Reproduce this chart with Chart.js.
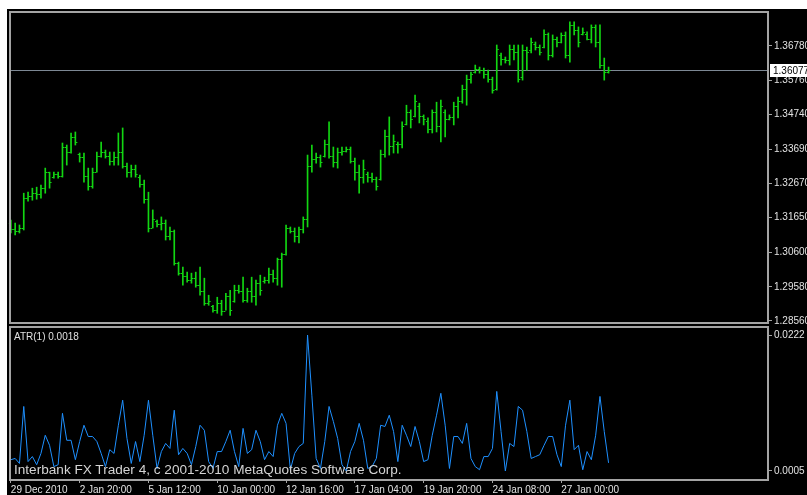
<!DOCTYPE html>
<html>
<head>
<meta charset="utf-8">
<script src="https://cdn.jsdelivr.net/npm/chart.js@4.4.0/dist/chart.umd.min.js"></script>
<style>
  html, body { margin: 0; padding: 0; background: #fff; overflow: hidden; }
  #fundo { position: absolute; left: 7px; top: 9px; width: 800px; height: 486px; background: #000; }
  canvas { position: absolute; left: 0; }
  #precos { top: 0; }
  #atr { top: 325px; }
  .texto { position: absolute; font-family: "Liberation Sans", Arial, sans-serif; white-space: nowrap; }
  #rotuloAtr { left: 14px; top: 331px; font-size: 10px; color: #e0e0e0; }
  #marca { left: 14px; top: 462px; font-size: 13.6px; color: #d4d4d4; }
</style>
</head>
<body>
<div id="fundo"></div>
<canvas id="precos" width="807" height="325"></canvas>
<canvas id="atr" width="807" height="170"></canvas>
<div class="texto" id="rotuloAtr">ATR(1) 0.0018</div>
<div class="texto" id="marca">Interbank FX Trader 4, c 2001-2010 MetaQuotes Software Corp.</div>
<script>
// EURUSD H4, 140 barras
const opens = [
  1.3150, 1.3130, 1.3125, 1.3135, 1.3225, 1.3230, 1.3240, 1.3235, 1.3255, 1.3300,
  1.3285, 1.3295, 1.3290, 1.3375, 1.3360, 1.3405, 1.3355, 1.3345, 1.3290, 1.3260,
  1.3300, 1.3350, 1.3360, 1.3350, 1.3335, 1.3345, 1.3360, 1.3320, 1.3300, 1.3310,
  1.3285, 1.3265, 1.3220, 1.3135, 1.3155, 1.3145, 1.3150, 1.3110, 1.3125, 1.3030,
  1.3000, 1.2990, 1.2980, 1.2985, 1.2965, 1.2945, 1.2910, 1.2900, 1.2890, 1.2910,
  1.2885, 1.2930, 1.2915, 1.2950, 1.2945, 1.2920, 1.2945, 1.2930, 1.2970, 1.2975,
  1.2980, 1.2995, 1.2985, 1.3040, 1.3055, 1.3135, 1.3125, 1.3110, 1.3130, 1.3160,
  1.3320, 1.3340, 1.3345, 1.3350, 1.3385, 1.3350, 1.3330, 1.3360, 1.3365, 1.3370,
  1.3335, 1.3300, 1.3285, 1.3295, 1.3285, 1.3280, 1.3280, 1.3355, 1.3410, 1.3380,
  1.3385, 1.3385, 1.3445, 1.3480, 1.3470, 1.3500, 1.3470, 1.3455, 1.3430, 1.3480,
  1.3440, 1.3480, 1.3460, 1.3465, 1.3500, 1.3515, 1.3550, 1.3580, 1.3600, 1.3610,
  1.3605, 1.3595, 1.3580, 1.3550, 1.3650, 1.3640, 1.3635, 1.3670, 1.3660, 1.3585,
  1.3665, 1.3665, 1.3685, 1.3675, 1.3675, 1.3715, 1.3650, 1.3700, 1.3690, 1.3710,
  1.3650, 1.3740, 1.3725, 1.3715, 1.3715, 1.3700, 1.3735, 1.3690, 1.3620, 1.3600
];
const highs = [
  1.3158, 1.3149, 1.3143, 1.3238, 1.3241, 1.3253, 1.3256, 1.3262, 1.3313, 1.3301,
  1.3301, 1.3301, 1.3388, 1.3382, 1.3418, 1.3421, 1.3358, 1.3358, 1.3313, 1.3313,
  1.3361, 1.3391, 1.3367, 1.3361, 1.3361, 1.3418, 1.3433, 1.3328, 1.3322, 1.3322,
  1.3292, 1.3277, 1.3241, 1.3188, 1.3158, 1.3167, 1.3158, 1.3137, 1.3128, 1.3032,
  1.3017, 1.3002, 1.2999, 1.3002, 1.3017, 1.2984, 1.2933, 1.2903, 1.2927, 1.2918,
  1.2939, 1.2948, 1.2963, 1.2963, 1.2987, 1.2954, 1.2987, 1.2978, 1.2993, 1.2987,
  1.3014, 1.3008, 1.3044, 1.3059, 1.3143, 1.3137, 1.3134, 1.3137, 1.3167, 1.3352,
  1.3382, 1.3358, 1.3352, 1.3397, 1.3451, 1.3376, 1.3373, 1.3376, 1.3376, 1.3376,
  1.3343, 1.3322, 1.3337, 1.3301, 1.3298, 1.3286, 1.3367, 1.3427, 1.3466, 1.3412,
  1.3391, 1.3451, 1.3501, 1.3487, 1.3531, 1.3507, 1.3472, 1.3463, 1.3487, 1.3510,
  1.3516, 1.3487, 1.3472, 1.3510, 1.3525, 1.3561, 1.3591, 1.3600, 1.3621, 1.3615,
  1.3612, 1.3606, 1.3585, 1.3681, 1.3657, 1.3645, 1.3681, 1.3681, 1.3681, 1.3681,
  1.3675, 1.3702, 1.3690, 1.3681, 1.3726, 1.3717, 1.3711, 1.3705, 1.3717, 1.3720,
  1.3750, 1.3750, 1.3735, 1.3732, 1.3720, 1.3741, 1.3741, 1.3741, 1.3642, 1.3615
];
const lows = [
  1.3119, 1.3113, 1.3119, 1.3128, 1.3214, 1.3217, 1.3220, 1.3223, 1.3238, 1.3253,
  1.3283, 1.3283, 1.3286, 1.3322, 1.3358, 1.3382, 1.3331, 1.3271, 1.3247, 1.3253,
  1.3301, 1.3346, 1.3343, 1.3322, 1.3322, 1.3322, 1.3313, 1.3286, 1.3286, 1.3286,
  1.3256, 1.3208, 1.3122, 1.3134, 1.3137, 1.3128, 1.3098, 1.3098, 1.3023, 1.2993,
  1.2963, 1.2972, 1.2969, 1.2957, 1.2933, 1.2903, 1.2903, 1.2882, 1.2879, 1.2873,
  1.2888, 1.2873, 1.2912, 1.2939, 1.2912, 1.2912, 1.2912, 1.2903, 1.2933, 1.2969,
  1.2969, 1.2972, 1.2963, 1.2957, 1.3053, 1.3119, 1.3092, 1.3089, 1.3119, 1.3137,
  1.3301, 1.3328, 1.3316, 1.3346, 1.3343, 1.3316, 1.3313, 1.3352, 1.3361, 1.3328,
  1.3277, 1.3238, 1.3268, 1.3271, 1.3271, 1.3247, 1.3277, 1.3346, 1.3352, 1.3358,
  1.3358, 1.3373, 1.3442, 1.3433, 1.3466, 1.3448, 1.3442, 1.3418, 1.3418, 1.3421,
  1.3391, 1.3406, 1.3457, 1.3442, 1.3463, 1.3507, 1.3501, 1.3567, 1.3597, 1.3597,
  1.3582, 1.3570, 1.3537, 1.3546, 1.3621, 1.3627, 1.3621, 1.3636, 1.3570, 1.3576,
  1.3606, 1.3657, 1.3666, 1.3651, 1.3672, 1.3636, 1.3645, 1.3675, 1.3687, 1.3642,
  1.3630, 1.3711, 1.3675, 1.3711, 1.3696, 1.3687, 1.3675, 1.3612, 1.3576, 1.3597
];
const closes = [
  1.3130, 1.3125, 1.3135, 1.3225, 1.3230, 1.3240, 1.3235, 1.3255, 1.3300, 1.3270,
  1.3295, 1.3290, 1.3375, 1.3360, 1.3405, 1.3390, 1.3345, 1.3290, 1.3260, 1.3300,
  1.3350, 1.3360, 1.3350, 1.3335, 1.3345, 1.3360, 1.3320, 1.3300, 1.3310, 1.3295,
  1.3265, 1.3220, 1.3135, 1.3160, 1.3145, 1.3150, 1.3110, 1.3125, 1.3030, 1.3000,
  1.2990, 1.2980, 1.2985, 1.2965, 1.2945, 1.2910, 1.2915, 1.2890, 1.2910, 1.2885,
  1.2930, 1.2890, 1.2950, 1.2945, 1.2920, 1.2945, 1.2930, 1.2970, 1.2950, 1.2980,
  1.2995, 1.2985, 1.3040, 1.3055, 1.3135, 1.3125, 1.3110, 1.3130, 1.3160, 1.3320,
  1.3340, 1.3345, 1.3330, 1.3385, 1.3350, 1.3330, 1.3360, 1.3365, 1.3370, 1.3335,
  1.3300, 1.3285, 1.3310, 1.3285, 1.3280, 1.3260, 1.3355, 1.3410, 1.3380, 1.3395,
  1.3385, 1.3440, 1.3480, 1.3460, 1.3515, 1.3470, 1.3460, 1.3430, 1.3480, 1.3440,
  1.3500, 1.3460, 1.3465, 1.3500, 1.3515, 1.3550, 1.3580, 1.3595, 1.3610, 1.3605,
  1.3595, 1.3580, 1.3545, 1.3670, 1.3640, 1.3635, 1.3670, 1.3660, 1.3580, 1.3665,
  1.3660, 1.3690, 1.3675, 1.3660, 1.3715, 1.3650, 1.3700, 1.3690, 1.3710, 1.3650,
  1.3740, 1.3725, 1.3690, 1.3720, 1.3700, 1.3735, 1.3690, 1.3620, 1.3600, 1.36077
];
const atrValues = [
  0.0023, 0.0025, 0.0017, 0.0108, 0.0020, 0.0028, 0.0015, 0.0033, 0.0062, 0.0046,
  0.0012, 0.0015, 0.0097, 0.0054, 0.0054, 0.0023, 0.0052, 0.0078, 0.0060, 0.0060,
  0.0052, 0.0033, 0.0012, 0.0039, 0.0033, 0.0078, 0.0118, 0.0057, 0.0017, 0.0052,
  0.0020, 0.0062, 0.0118, 0.0062, 0.0009, 0.0036, 0.0049, 0.0041, 0.0102, 0.0031,
  0.0041, 0.0033, 0.0015, 0.0044, 0.0078, 0.0070, 0.0020, 0.0009, 0.0036, 0.0036,
  0.0052, 0.0070, 0.0036, 0.0012, 0.0073, 0.0033, 0.0039, 0.0070, 0.0052, 0.0023,
  0.0036, 0.0028, 0.0078, 0.0097, 0.0081, 0.0007, 0.0033, 0.0044, 0.0049, 0.0222,
  0.0126, 0.0025, 0.0009, 0.0052, 0.0108, 0.0084, 0.0057, 0.0015, 0.0005, 0.0036,
  0.0052, 0.0081, 0.0054, 0.0009, 0.0012, 0.0025, 0.0078, 0.0076, 0.0094, 0.0068,
  0.0020, 0.0078, 0.0062, 0.0044, 0.0076, 0.0052, 0.0020, 0.0023, 0.0062, 0.0094,
  0.0129, 0.0078, 0.0009, 0.0060, 0.0060, 0.0049, 0.0081, 0.0025, 0.0012, 0.0007,
  0.0028, 0.0028, 0.0041, 0.0132, 0.0068, 0.0005, 0.0049, 0.0044, 0.0108, 0.0102,
  0.0068, 0.0025, 0.0028, 0.0031, 0.0046, 0.0060, 0.0060, 0.0031, 0.0012, 0.0078,
  0.0118, 0.0039, 0.0046, 0.0007, 0.0036, 0.0023, 0.0062, 0.0124, 0.0068, 0.0018
];
const currentPrice = 1.36077;
const priceTicks = [1.3678, 1.3576, 1.3474, 1.3369, 1.3267, 1.3165, 1.3060, 1.2958, 1.2856];
const atrTicks = [0.0222, 0.0005];
const timeTickBars = [0, 16, 32, 48, 64, 80, 96, 112, 128];
const timeLabels = ['29 Dec 2010', '2 Jan 20:00', '5 Jan 12:00', '10 Jan 00:00', '12 Jan 16:00',
  '17 Jan 04:00', '19 Jan 20:00', '24 Jan 08:00', '27 Jan 00:00'];

const corBarra = '#12d612';
const corAtr = '#1e90ff';
const corMoldura = '#a4a4a4';
const corTexto = '#e2e2e2';
const fonte = { family: '"Liberation Sans", Arial, sans-serif', size: 10 };
const xMin = -0.2;
const xMax = 176.08;

function main() {
  gerarGraficoPrecos();
  gerarGraficoAtr();
}

// sem folga extra para os rótulos das pontas: a área do gráfico fica onde o padding manda
function semFolga(s) {
  s.paddingTop = 0;
  s.paddingBottom = 0;
  s.paddingLeft = 0;
  s.paddingRight = 0;
}

const moldura = {
  id: 'moldura',
  afterDraw(chart) {
    const { ctx, chartArea: a } = chart;
    ctx.save();
    ctx.strokeStyle = corMoldura;
    ctx.lineWidth = 2;
    ctx.strokeRect(a.left, a.top, a.right - a.left, a.bottom - a.top);
    ctx.restore();
  }
};

// tracinhos de abertura (esquerda) e fechamento (direita)
const ticksOhlc = {
  id: 'ticksOhlc',
  afterDatasetsDraw(chart) {
    const { ctx, scales: { y } } = chart;
    const meta = chart.getDatasetMeta(0);
    ctx.save();
    ctx.fillStyle = corBarra;
    meta.data.forEach((barra, i) => {
      const yo = Math.round(y.getPixelForValue(opens[i]));
      const yc = Math.round(y.getPixelForValue(closes[i]));
      ctx.fillRect(barra.x - 2, yo, 1.5, 1);
      ctx.fillRect(barra.x + 0.5, yc, 1.5, 1);
    });
    ctx.restore();
  }
};

const linhaPreco = {
  id: 'linhaPreco',
  beforeDatasetsDraw(chart) {
    const { ctx, chartArea: a, scales: { y } } = chart;
    const py = Math.round(y.getPixelForValue(currentPrice)) + 0.5;
    ctx.save();
    ctx.strokeStyle = '#7d8894';
    ctx.lineWidth = 1;
    ctx.beginPath();
    ctx.moveTo(a.left, py);
    ctx.lineTo(a.right, py);
    ctx.stroke();
    ctx.restore();
  },
  afterDraw(chart) {
    const { ctx, chartArea: a, scales: { y } } = chart;
    const py = Math.round(y.getPixelForValue(currentPrice));
    ctx.save();
    ctx.fillStyle = '#ffffff';
    ctx.fillRect(a.right + 2, py - 6, chart.width - a.right - 2, 13);
    ctx.fillStyle = '#000000';
    ctx.font = '10px "Liberation Sans", Arial, sans-serif';
    ctx.textBaseline = 'middle';
    ctx.fillText(currentPrice.toFixed(5), a.right + 5, py + 1);
    ctx.restore();
  }
};

function gerarGraficoPrecos() {
  const ctx = document.getElementById('precos').getContext('2d');
  new Chart(ctx, {
    type: 'bar',
    data: {
      datasets: [{
        data: highs.map((h, i) => ({ x: i, y: [lows[i], h] })),
        backgroundColor: corBarra,
        barThickness: 1,
        borderWidth: 0
      }]
    },
    options: {
      responsive: false,
      animation: false,
      layout: { padding: { left: 10, top: 12, bottom: 2, right: 0 } },
      plugins: { legend: { display: false }, tooltip: { enabled: false } },
      scales: {
        x: { type: 'linear', min: xMin, max: xMax, display: false, offset: false },
        y: {
          position: 'right',
          min: 1.2850,
          max: 1.37796,
          afterFit(s) { s.width = 39; semFolga(s); },
          afterBuildTicks(s) { s.ticks = priceTicks.map(v => ({ value: v })); },
          border: { display: false },
          grid: { drawOnChartArea: false, tickLength: 4, color: corMoldura },
          ticks: { color: corTexto, font: fonte, padding: 2, callback: v => v.toFixed(5) }
        }
      }
    },
    plugins: [linhaPreco, ticksOhlc, moldura]
  });
}

function gerarGraficoAtr() {
  const ctx = document.getElementById('atr').getContext('2d');
  new Chart(ctx, {
    type: 'line',
    data: {
      datasets: [{
        data: atrValues.map((v, i) => ({ x: i, y: v })),
        borderColor: corAtr,
        borderWidth: 1,
        pointRadius: 0,
        tension: 0,
        fill: false
      }]
    },
    options: {
      responsive: false,
      animation: false,
      layout: { padding: { left: 10, top: 2, bottom: 0, right: 0 } },
      plugins: { legend: { display: false }, tooltip: { enabled: false } },
      scales: {
        x: {
          type: 'linear',
          min: xMin,
          max: xMax,
          afterFit(s) { s.height = 15; semFolga(s); },
          afterBuildTicks(s) { s.ticks = timeTickBars.map(v => ({ value: v })); },
          border: { display: false },
          grid: { drawOnChartArea: false, tickLength: 3, color: corMoldura },
          ticks: {
            autoSkip: false,
            maxRotation: 0,
            align: 'start',
            padding: 1,
            color: corTexto,
            font: fonte,
            callback: v => timeLabels[timeTickBars.indexOf(v)]
          }
        },
        y: {
          position: 'right',
          min: -0.00094,
          max: 0.02348,
          afterFit(s) { s.width = 39; semFolga(s); },
          afterBuildTicks(s) { s.ticks = atrTicks.map(v => ({ value: v })); },
          border: { display: false },
          grid: { drawOnChartArea: false, tickLength: 4, color: corMoldura },
          ticks: { color: corTexto, font: fonte, padding: 2, callback: v => v.toFixed(4) }
        }
      }
    },
    plugins: [moldura]
  });
}

main();
</script>
</body>
</html>
